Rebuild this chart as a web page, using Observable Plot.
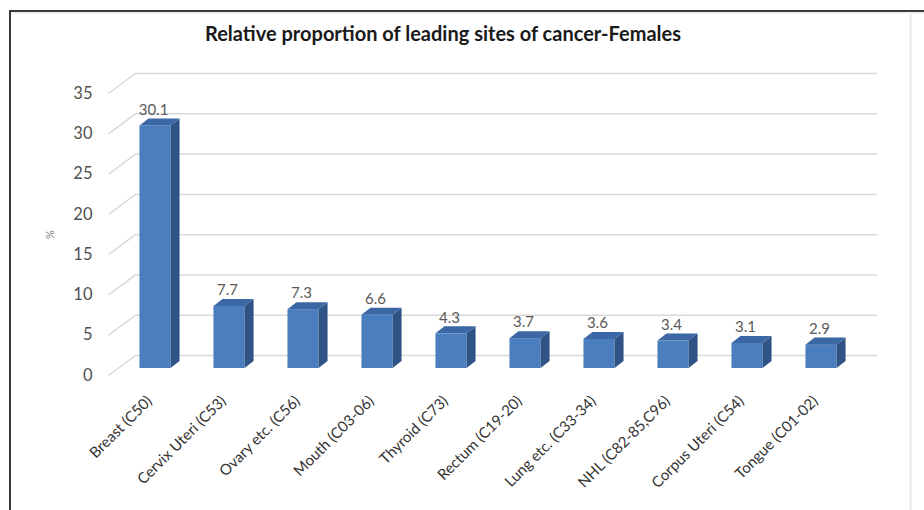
<!DOCTYPE html>
<html>
<head>
<meta charset="utf-8">
<script src="https://cdn.jsdelivr.net/npm/d3@7"></script>
<script src="https://cdn.jsdelivr.net/npm/@observablehq/plot@0.6"></script>
<style>
  html, body { margin: 0; padding: 0; background: #fff; }
  #wrap { position: relative; width: 924px; height: 510px; overflow: hidden; background: #fff; }
  #chart { position: absolute; left: 0; top: 0; }
  #border { position: absolute; left: 9px; top: 10px; width: 940px; height: 530px;
            border-top: 2px solid #3a3a3a; border-left: 2px solid #3a3a3a; pointer-events: none; }
  #shade { position: absolute; left: 11px; top: 12px; width: 913px; height: 2px; background: #f1f1f1; }
  #rightline { position: absolute; left: 909px; top: 13px; width: 3px; height: 500px; background: #eeeeee; }
  #title { position: absolute; left: 0; width: 886px; top: 23px; text-align: center;
           font: bold 20px Lato, sans-serif; line-height: 20px; color: #1a1a1a; }
</style>
</head>
<body>
<div id="wrap">
  <div id="chart"></div>
  <div id="shade"></div>
  <div id="border"></div>
  <div id="rightline"></div>
  <div id="title">Relative proportion of leading sites of cancer-Females</div>
</div>
<script>
// ---- data ----
const categories = ["Breast (C50)", "Cervix Uteri (C53)", "Ovary etc. (C56)", "Mouth (C03-06)",
  "Thyroid (C73)", "Rectum (C19-20)", "Lung etc. (C33-34)", "NHL (C82-85,C96)",
  "Corpus Uteri (C54)", "Tongue (C01-02)"];
const values = [30.1, 7.7, 7.3, 6.6, 4.3, 3.7, 3.6, 3.4, 3.1, 2.9];
const yTicks = [0, 5, 10, 15, 20, 25, 30, 35];
const yLabel = "%";

// ---- 3D geometry (in scale units) ----
const W = 0.21;     // half bar width
const D = 0.122;    // bar depth along x
const E = 0.87;     // bar depth along y
const BY = 0.87;    // bar front base offset
const X0 = -0.635;  // front-left edge of walls
const DX = 0.365;   // wall depth x
const DY = 2.48;    // wall depth y
const XR = 9.76;    // back wall right end

const bars = categories.map((c, i) => ({c, i, v: values[i]}));

const sideFaces = bars.flatMap(b => [
  {k: b.c, x: b.i + W, lo: BY, hi: b.v + BY},
  {k: b.c, x: b.i + W + D, lo: BY + E, hi: b.v + BY + E}
]);
const topFaces = bars.flatMap(b => [
  {k: b.c, x: b.i - W, lo: b.v + BY, hi: b.v + BY},
  {k: b.c, x: b.i - W + D, lo: b.v + BY, hi: b.v + BY + E},
  {k: b.c, x: b.i + W, lo: b.v + BY, hi: b.v + BY + E},
  {k: b.c, x: b.i + W + D, lo: b.v + BY + E, hi: b.v + BY + E}
]);

const chart = Plot.plot({
  width: 924,
  height: 510,
  margin: 0,
  style: {fontFamily: "Lato, sans-serif", background: "transparent"},
  x: {type: "linear", domain: [-0.5, 9.5], range: [118, 858], axis: null},
  y: {type: "linear", domain: [0, 35], range: [375, 93], axis: null},
  marks: [
    Plot.link(yTicks, {x1: X0, y1: d => d, x2: X0 + DX, y2: d => d + DY, stroke: "#d9d9d9", strokeWidth: 1.5}),
    Plot.ruleY(yTicks, {y: d => d + DY, x1: X0 + DX, x2: XR, stroke: "#d9d9d9", strokeWidth: 1.5}),
    Plot.rect(bars, {x1: d => d.i - W, x2: d => d.i + W, y1: BY, y2: d => d.v + BY, fill: "#4a7ebf"}),
    Plot.area(sideFaces, {x1: "x", y1: "lo", y2: "hi", z: "k", fill: "#2f5385"}),
    Plot.area(topFaces, {x1: "x", y1: "lo", y2: "hi", z: "k", fill: "#3b67a5"}),
    Plot.text(bars, {x: "i", y: d => d.v + BY + E, text: d => d3.format(".1f")(d.v),
      dx: -2, dy: -9, fontSize: 15, fill: "#595959"}),
    Plot.text(yTicks, {x: X0, y: d => d, text: d => String(d), dx: -16, textAnchor: "end",
      fontSize: 16.5, fill: "#505050"}),
    Plot.text([yLabel], {x: X0, y: 17.5, dx: -58, rotate: -90, fontSize: 11, fill: "#7f7f7f"}),
    Plot.text(bars, {x: "i", y: 0, text: "c", rotate: -45, textAnchor: "end",
      dx: -6, dy: 23, fontSize: 15, fill: "#333333"})
  ]
});
document.getElementById("chart").appendChild(chart);
</script>
</body>
</html>
